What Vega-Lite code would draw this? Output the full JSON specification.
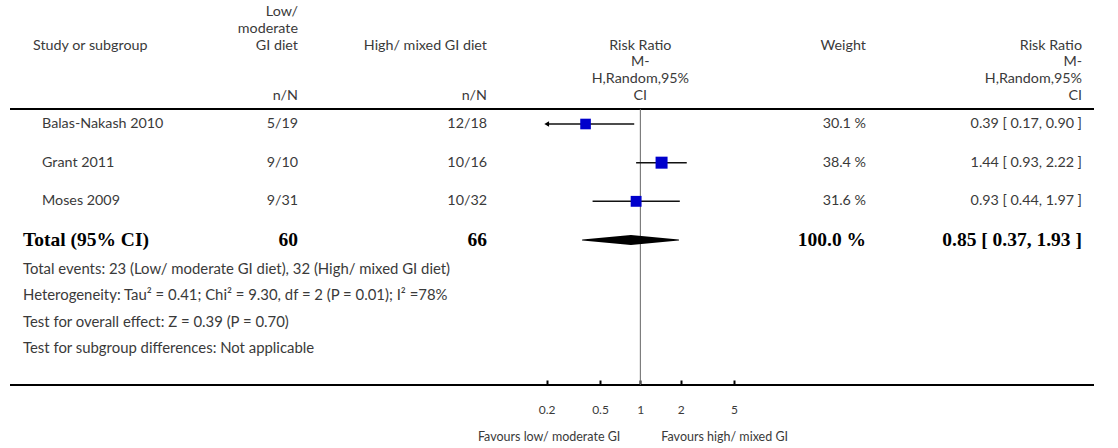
{
"$schema":"https://vega.github.io/schema/vega-lite/v6.json",
"width":1084,"height":448,
"autosize":{"type":"none"},
"padding":{"left":10,"right":24,"top":0,"bottom":0},
"background":"white",
"config":{"view":{"stroke":null},"text":{"font":"Lato","fontSize":14.3,"color":"#3a3a3a","baseline":"middle"}},
"datasets":{
 "borders":[{"line":"top"},{"line":"bottom"}],
 "header":[
  {"line":"h1","col":"low","text":"Low/"},
  {"line":"h2","col":"low","text":"moderate"},
  {"line":"h3","col":"study","text":"Study or subgroup"},
  {"line":"h3","col":"low","text":"GI diet"},
  {"line":"h3","col":"high","text":"High/ mixed GI diet"},
  {"line":"h3","col":"forest","text":"Risk Ratio"},
  {"line":"h3","col":"weight","text":"Weight"},
  {"line":"h3","col":"rr","text":"Risk Ratio"},
  {"line":"h4","col":"forest","text":"M-"},
  {"line":"h4","col":"rr","text":"M-"},
  {"line":"h5","col":"forest","text":"H,Random,95%"},
  {"line":"h5","col":"rr","text":"H,Random,95%"},
  {"line":"h6","col":"low","text":"n/N"},
  {"line":"h6","col":"high","text":"n/N"},
  {"line":"h6","col":"forest","text":"CI"},
  {"line":"h6","col":"rr","text":"CI"}
 ],
 "studies":[
  {"study":"Balas-Nakash 2010","low":"5/19","high":"12/18","weight":30.1,"rr":0.39,"lo":0.17,"hi":0.90,"weightLabel":"30.1 %","ciLabel":"0.39 [ 0.17, 0.90 ]"},
  {"study":"Grant 2011","low":"9/10","high":"10/16","weight":38.4,"rr":1.44,"lo":0.93,"hi":2.22,"weightLabel":"38.4 %","ciLabel":"1.44 [ 0.93, 2.22 ]"},
  {"study":"Moses 2009","low":"9/31","high":"10/32","weight":31.6,"rr":0.93,"lo":0.44,"hi":1.97,"weightLabel":"31.6 %","ciLabel":"0.93 [ 0.44, 1.97 ]"}
 ],
 "total":[
  {"study":"Total (95% CI)","low":"60","high":"66","weightLabel":"100.0 %","ciLabel":"0.85 [ 0.37, 1.93 ]"}
 ],
 "diamond":[
  {"study":"Total (95% CI)","part":"tip","rr":0.37},
  {"study":"Total (95% CI)","part":"centre","rr":0.85},
  {"study":"Total (95% CI)","part":"tip","rr":1.93}
 ],
 "notes":[
  {"key":"events","note":"Total events: 23 (Low/ moderate GI diet), 32 (High/ mixed GI diet)"},
  {"key":"heterogeneity","note":"Heterogeneity: Tau² = 0.41; Chi² = 9.30, df = 2 (P = 0.01); I² =78%"},
  {"key":"overall","note":"Test for overall effect: Z = 0.39 (P = 0.70)"},
  {"key":"subgroup","note":"Test for subgroup differences: Not applicable"}
 ],
 "favours":[
  {"side":"left","text":"Favours low/ moderate GI"},
  {"side":"right","text":"Favours high/ mixed GI"}
 ]
},
"resolve":{"scale":{"x":"independent","y":"independent","size":"independent"}},
"layer":[
 {"data":{"name":"borders"},"mark":{"type":"rule","color":"#000000","strokeWidth":2.2},
  "encoding":{"y":{"field":"line","type":"nominal","scale":{"type":"point","domain":["top","bottom"],"range":[109,385],"padding":0},"axis":null}}},
 {"data":{"values":[{"rr":1}]},"mark":{"type":"rule","color":"#666666","strokeWidth":1},
  "encoding":{
   "x":{"field":"rr","type":"quantitative","scale":{"type":"log","domain":[0.2,5],"range":[536.7,724],"clamp":true,"nice":false},
        "axis":{"orient":"bottom","offset":-63,"values":[0.2,0.5,1,2,5],"format":"~g","domain":false,"grid":false,"tickSize":-5,"tickWidth":2,"tickColor":"#000000","labelFont":"Lato","labelFontSize":12,"labelColor":"#3a3a3a","labelPadding":24,"title":null,"labelFlush":false,"labelOverlap":false}},
   "y":{"datum":"top","type":"nominal","scale":{"type":"point","domain":["top","bottom"],"range":[109,385],"padding":0},"axis":null},
   "y2":{"datum":"bottom"}}},
 {"data":{"name":"studies"},"mark":{"type":"rule","color":"#111111","strokeWidth":1.5},
  "encoding":{
   "x":{"field":"lo","type":"quantitative","scale":{"type":"log","domain":[0.2,5],"range":[536.7,724],"clamp":true,"nice":false},"axis":null},
   "x2":{"field":"hi"},
   "y":{"field":"study","type":"nominal","scale":{"type":"point","domain":["Balas-Nakash 2010","Grant 2011","Moses 2009","Total (95% CI)"],"range":[124,240],"padding":0},"axis":null}}},
 {"data":{"name":"studies"},"mark":{"type":"point","shape":"square","filled":true,"opacity":1,"color":"#0000cc"},
  "encoding":{
   "x":{"field":"rr","type":"quantitative","scale":{"type":"log","domain":[0.2,5],"range":[536.7,724],"clamp":true,"nice":false},"axis":null},
   "y":{"field":"study","type":"nominal","scale":{"type":"point","domain":["Balas-Nakash 2010","Grant 2011","Moses 2009","Total (95% CI)"],"range":[124,240],"padding":0},"axis":null},
   "size":{"field":"weight","type":"quantitative","scale":{"domain":[0,38.4],"range":[0,144]},"legend":null}}},
 {"data":{"name":"studies"},"transform":[{"filter":"datum.lo < 0.2"}],"mark":{"type":"point","shape":"triangle-left","filled":true,"opacity":1,"color":"#000000","size":30},
  "encoding":{
   "x":{"field":"lo","type":"quantitative","scale":{"type":"log","domain":[0.2,5],"range":[536.7,724],"clamp":true,"nice":false},"axis":null},
   "y":{"field":"study","type":"nominal","scale":{"type":"point","domain":["Balas-Nakash 2010","Grant 2011","Moses 2009","Total (95% CI)"],"range":[124,240],"padding":0},"axis":null}}},
 {"data":{"name":"diamond"},"mark":{"type":"trail","color":"#000000"},
  "encoding":{
   "x":{"field":"rr","type":"quantitative","scale":{"type":"log","domain":[0.2,5],"range":[536.7,724],"clamp":true,"nice":false},"axis":null},
   "y":{"field":"study","type":"nominal","scale":{"type":"point","domain":["Balas-Nakash 2010","Grant 2011","Moses 2009","Total (95% CI)"],"range":[124,240],"padding":0},"axis":null},
   "size":{"field":"part","type":"ordinal","scale":{"type":"point","domain":["tip","centre"],"range":[0,10],"padding":0},"legend":null}}},
 {"data":{"name":"favours"},"transform":[{"filter":"datum.side == 'left'"}],"mark":{"type":"text","align":"right","dx":-20,"fontSize":12.5},
  "encoding":{
   "x":{"datum":1,"type":"quantitative","scale":{"type":"log","domain":[0.2,5],"range":[536.7,724],"nice":false},"axis":null},
   "y":{"field":"side","type":"nominal","scale":{"type":"point","domain":["left","right"],"range":[437,437],"padding":0},"axis":null},
   "text":{"field":"text"}}},
 {"data":{"name":"favours"},"transform":[{"filter":"datum.side == 'right'"}],"mark":{"type":"text","align":"left","dx":21,"fontSize":12.5},
  "encoding":{
   "x":{"datum":1,"type":"quantitative","scale":{"type":"log","domain":[0.2,5],"range":[536.7,724],"nice":false},"axis":null},
   "y":{"field":"side","type":"nominal","scale":{"type":"point","domain":["left","right"],"range":[437,437],"padding":0},"axis":null},
   "text":{"field":"text"}}},
 {"data":{"name":"header"},"transform":[{"filter":"datum.col == 'study'"}],"mark":{"type":"text","align":"left"},
  "encoding":{
   "x":{"field":"col","type":"nominal","scale":{"type":"point","domain":["study"],"range":[23,23],"padding":0},"axis":null},
   "y":{"field":"line","type":"nominal","scale":{"type":"point","domain":["h1","h2","h3","h4","h5","h6"],"range":[12,96],"padding":0},"axis":null},
   "text":{"field":"text"}}},
 {"data":{"name":"header"},"transform":[{"filter":"datum.col == 'low'"}],"mark":{"type":"text","align":"right"},
  "encoding":{
   "x":{"field":"col","type":"nominal","scale":{"type":"point","domain":["low"],"range":[288,288],"padding":0},"axis":null},
   "y":{"field":"line","type":"nominal","scale":{"type":"point","domain":["h1","h2","h3","h4","h5","h6"],"range":[12,96],"padding":0},"axis":null},
   "text":{"field":"text"}}},
 {"data":{"name":"header"},"transform":[{"filter":"datum.col == 'high'"}],"mark":{"type":"text","align":"right"},
  "encoding":{
   "x":{"field":"col","type":"nominal","scale":{"type":"point","domain":["high"],"range":[477,477],"padding":0},"axis":null},
   "y":{"field":"line","type":"nominal","scale":{"type":"point","domain":["h1","h2","h3","h4","h5","h6"],"range":[12,96],"padding":0},"axis":null},
   "text":{"field":"text"}}},
 {"data":{"name":"header"},"transform":[{"filter":"datum.col == 'forest'"}],"mark":{"type":"text","align":"center"},
  "encoding":{
   "x":{"field":"col","type":"nominal","scale":{"type":"point","domain":["forest"],"range":[630.3,630.3],"padding":0},"axis":null},
   "y":{"field":"line","type":"nominal","scale":{"type":"point","domain":["h1","h2","h3","h4","h5","h6"],"range":[12,96],"padding":0},"axis":null},
   "text":{"field":"text"}}},
 {"data":{"name":"header"},"transform":[{"filter":"datum.col == 'weight'"}],"mark":{"type":"text","align":"right"},
  "encoding":{
   "x":{"field":"col","type":"nominal","scale":{"type":"point","domain":["weight"],"range":[856,856],"padding":0},"axis":null},
   "y":{"field":"line","type":"nominal","scale":{"type":"point","domain":["h1","h2","h3","h4","h5","h6"],"range":[12,96],"padding":0},"axis":null},
   "text":{"field":"text"}}},
 {"data":{"name":"header"},"transform":[{"filter":"datum.col == 'rr'"}],"mark":{"type":"text","align":"right"},
  "encoding":{
   "x":{"field":"col","type":"nominal","scale":{"type":"point","domain":["rr"],"range":[1072,1072],"padding":0},"axis":null},
   "y":{"field":"line","type":"nominal","scale":{"type":"point","domain":["h1","h2","h3","h4","h5","h6"],"range":[12,96],"padding":0},"axis":null},
   "text":{"field":"text"}}},
 {"data":{"name":"studies"},"mark":{"type":"text","align":"left"},
  "encoding":{
   "x":{"datum":"study","type":"nominal","scale":{"type":"point","domain":["study"],"range":[32,32],"padding":0},"axis":null},
   "y":{"field":"study","type":"nominal","scale":{"type":"point","domain":["Balas-Nakash 2010","Grant 2011","Moses 2009","Total (95% CI)"],"range":[124,240],"padding":0},"axis":null},
   "text":{"field":"study"}}},
 {"data":{"name":"studies"},"mark":{"type":"text","align":"right"},
  "encoding":{
   "x":{"datum":"low","type":"nominal","scale":{"type":"point","domain":["low"],"range":[288,288],"padding":0},"axis":null},
   "y":{"field":"study","type":"nominal","scale":{"type":"point","domain":["Balas-Nakash 2010","Grant 2011","Moses 2009","Total (95% CI)"],"range":[124,240],"padding":0},"axis":null},
   "text":{"field":"low"}}},
 {"data":{"name":"studies"},"mark":{"type":"text","align":"right"},
  "encoding":{
   "x":{"datum":"high","type":"nominal","scale":{"type":"point","domain":["high"],"range":[477,477],"padding":0},"axis":null},
   "y":{"field":"study","type":"nominal","scale":{"type":"point","domain":["Balas-Nakash 2010","Grant 2011","Moses 2009","Total (95% CI)"],"range":[124,240],"padding":0},"axis":null},
   "text":{"field":"high"}}},
 {"data":{"name":"studies"},"mark":{"type":"text","align":"right"},
  "encoding":{
   "x":{"datum":"weight","type":"nominal","scale":{"type":"point","domain":["weight"],"range":[856,856],"padding":0},"axis":null},
   "y":{"field":"study","type":"nominal","scale":{"type":"point","domain":["Balas-Nakash 2010","Grant 2011","Moses 2009","Total (95% CI)"],"range":[124,240],"padding":0},"axis":null},
   "text":{"field":"weightLabel"}}},
 {"data":{"name":"studies"},"mark":{"type":"text","align":"right"},
  "encoding":{
   "x":{"datum":"rr","type":"nominal","scale":{"type":"point","domain":["rr"],"range":[1072,1072],"padding":0},"axis":null},
   "y":{"field":"study","type":"nominal","scale":{"type":"point","domain":["Balas-Nakash 2010","Grant 2011","Moses 2009","Total (95% CI)"],"range":[124,240],"padding":0},"axis":null},
   "text":{"field":"ciLabel"}}},
 {"data":{"name":"total"},"mark":{"type":"text","align":"left","font":"Liberation Serif","fontWeight":"bold","fontSize":19.5,"color":"#000000"},
  "encoding":{
   "x":{"datum":"label","type":"nominal","scale":{"type":"point","domain":["label"],"range":[13,13],"padding":0},"axis":null},
   "y":{"field":"study","type":"nominal","scale":{"type":"point","domain":["Balas-Nakash 2010","Grant 2011","Moses 2009","Total (95% CI)"],"range":[124,240],"padding":0},"axis":null},
   "text":{"field":"study"}}},
 {"data":{"name":"total"},"mark":{"type":"text","align":"right","font":"Liberation Serif","fontWeight":"bold","fontSize":19.5,"color":"#000000"},
  "encoding":{
   "x":{"datum":"low","type":"nominal","scale":{"type":"point","domain":["low"],"range":[288,288],"padding":0},"axis":null},
   "y":{"field":"study","type":"nominal","scale":{"type":"point","domain":["Balas-Nakash 2010","Grant 2011","Moses 2009","Total (95% CI)"],"range":[124,240],"padding":0},"axis":null},
   "text":{"field":"low"}}},
 {"data":{"name":"total"},"mark":{"type":"text","align":"right","font":"Liberation Serif","fontWeight":"bold","fontSize":19.5,"color":"#000000"},
  "encoding":{
   "x":{"datum":"high","type":"nominal","scale":{"type":"point","domain":["high"],"range":[477,477],"padding":0},"axis":null},
   "y":{"field":"study","type":"nominal","scale":{"type":"point","domain":["Balas-Nakash 2010","Grant 2011","Moses 2009","Total (95% CI)"],"range":[124,240],"padding":0},"axis":null},
   "text":{"field":"high"}}},
 {"data":{"name":"total"},"mark":{"type":"text","align":"right","font":"Liberation Serif","fontWeight":"bold","fontSize":19.5,"color":"#000000"},
  "encoding":{
   "x":{"datum":"weight","type":"nominal","scale":{"type":"point","domain":["weight"],"range":[856,856],"padding":0},"axis":null},
   "y":{"field":"study","type":"nominal","scale":{"type":"point","domain":["Balas-Nakash 2010","Grant 2011","Moses 2009","Total (95% CI)"],"range":[124,240],"padding":0},"axis":null},
   "text":{"field":"weightLabel"}}},
 {"data":{"name":"total"},"mark":{"type":"text","align":"right","font":"Liberation Serif","fontWeight":"bold","fontSize":19.5,"color":"#000000"},
  "encoding":{
   "x":{"datum":"rr","type":"nominal","scale":{"type":"point","domain":["rr"],"range":[1072,1072],"padding":0},"axis":null},
   "y":{"field":"study","type":"nominal","scale":{"type":"point","domain":["Balas-Nakash 2010","Grant 2011","Moses 2009","Total (95% CI)"],"range":[124,240],"padding":0},"axis":null},
   "text":{"field":"ciLabel"}}},
 {"data":{"name":"notes"},"mark":{"type":"text","align":"left","fontSize":14.9},
  "encoding":{
   "x":{"datum":"label","type":"nominal","scale":{"type":"point","domain":["label"],"range":[13,13],"padding":0},"axis":null},
   "y":{"field":"key","type":"nominal","scale":{"type":"point","domain":["events","heterogeneity","overall","subgroup"],"range":[270,349],"padding":0},"axis":null},
   "text":{"field":"note"}}}
]
}
